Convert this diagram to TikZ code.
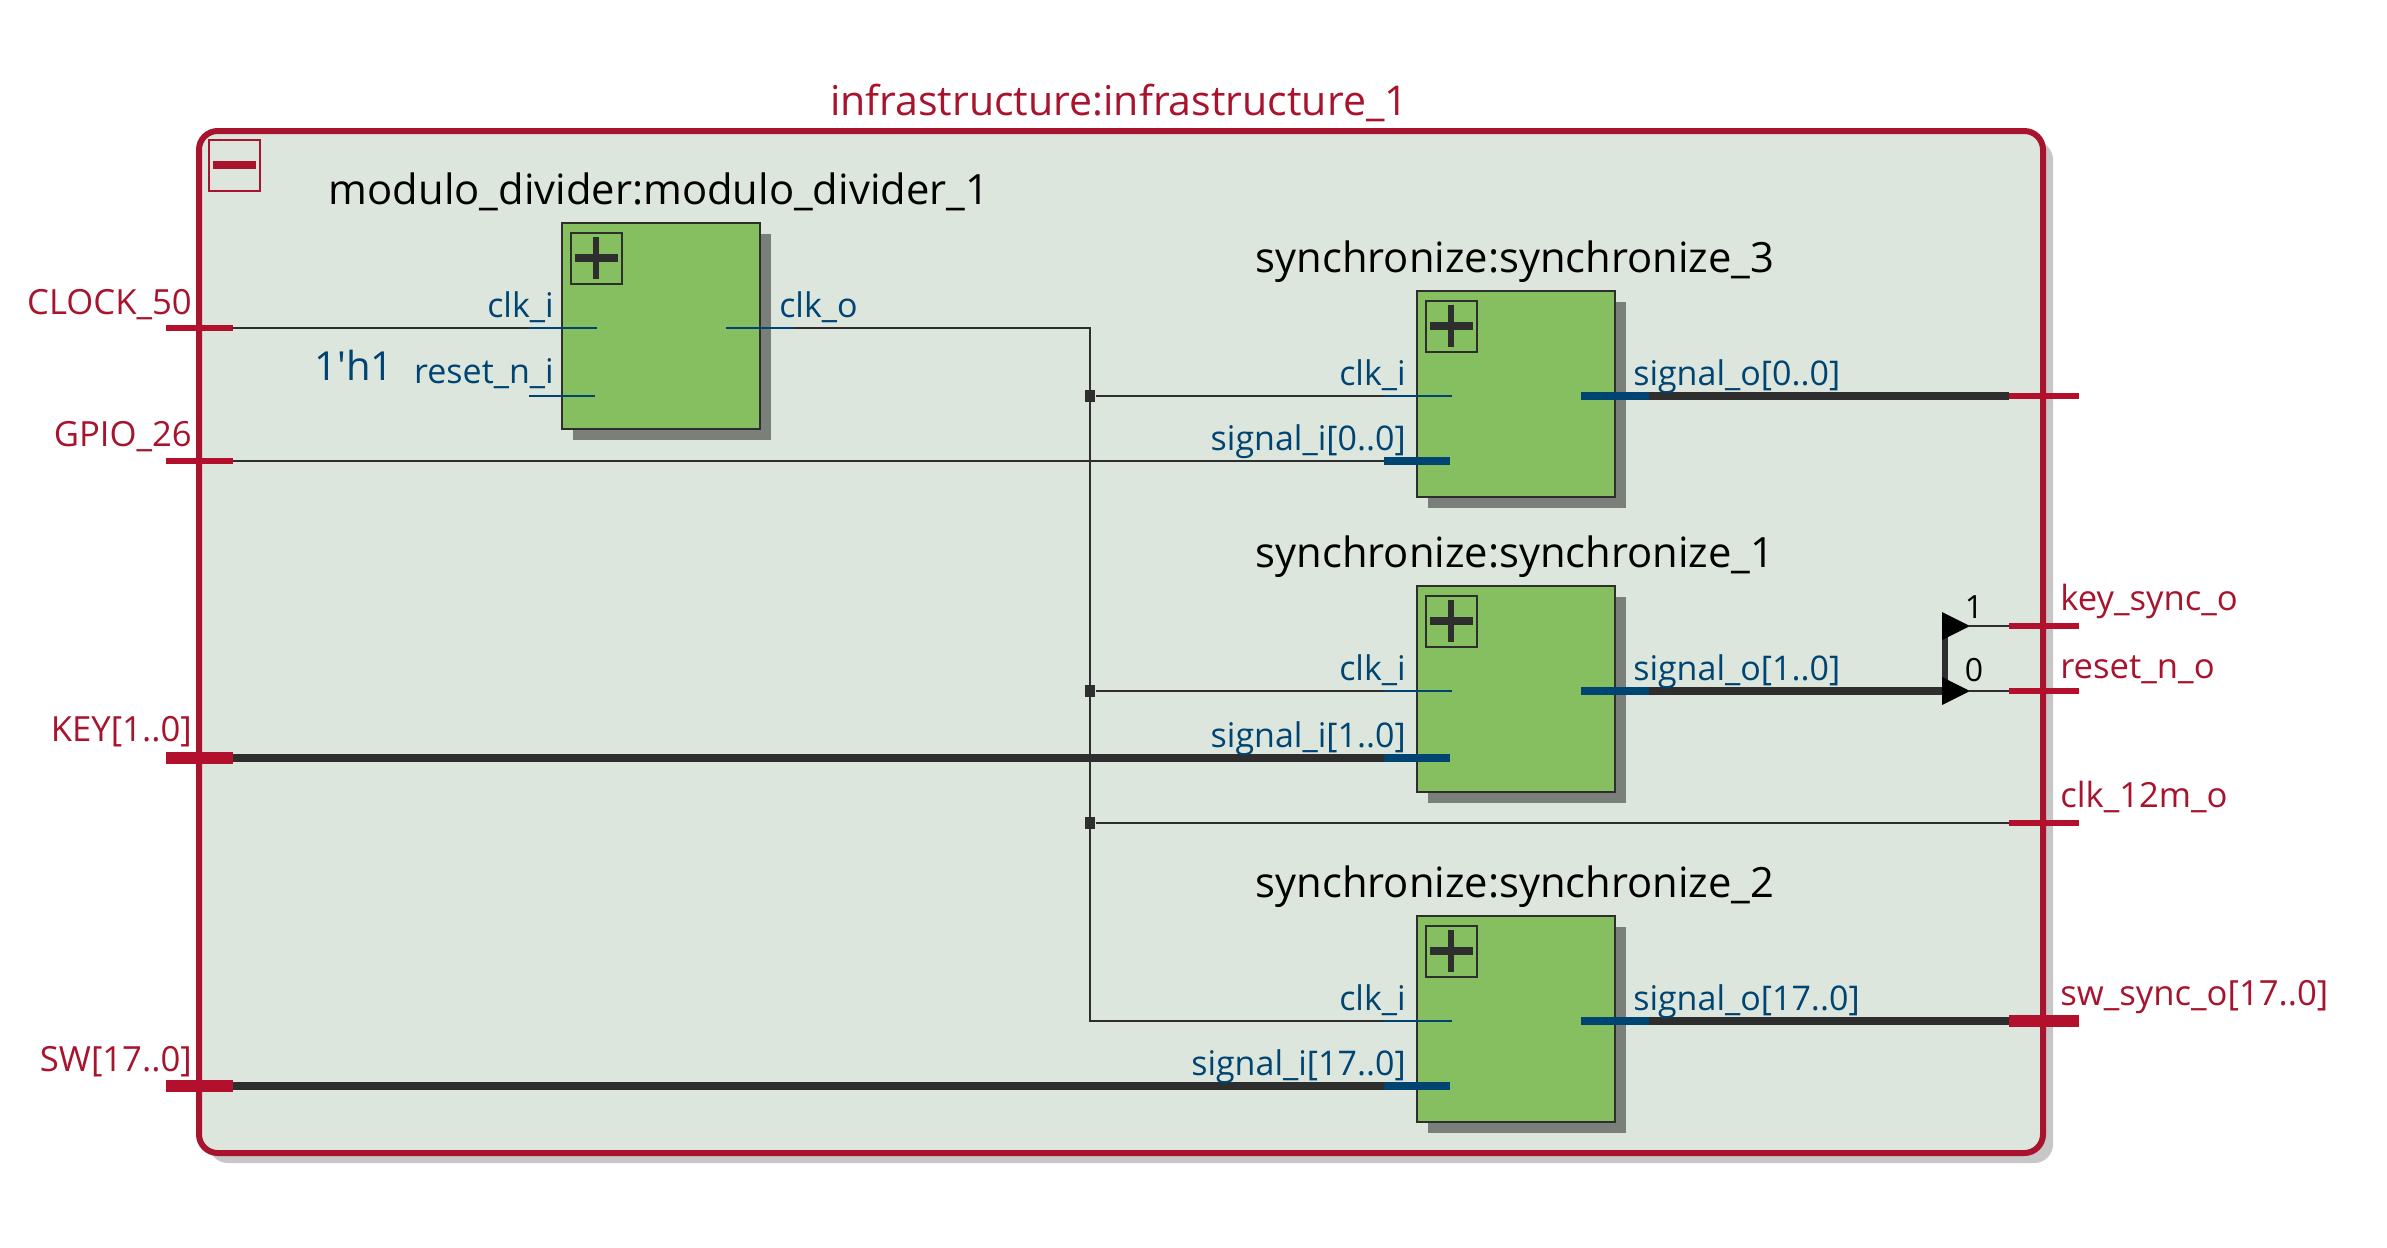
\documentclass[tikz,border=0pt]{standalone}
\usepackage{fontspec}
\setmainfont{Open Sans}
\usetikzlibrary{calc,shadows}
\definecolor{framered}{RGB}{168,20,45}
\definecolor{stubred}{RGB}{178,16,44}
\definecolor{portblue}{RGB}{0,68,114}
\definecolor{wiredark}{RGB}{46,46,46}
\definecolor{blockgreen}{RGB}{133,191,96}
\definecolor{framefill}{RGB}{221,230,221}
\tikzset{
frame/.style={draw=framered, line width=4.5pt, fill=framefill, rounded corners=14pt, minimum width=1383pt, minimum height=766.5pt, inner sep=0pt, outer sep=0pt, anchor=north west, copy shadow={draw=none, fill=black!22, shadow xshift=7.5pt, shadow yshift=-7.5pt}},
moduleblock/.style={draw=wiredark, line width=2pt, fill=blockgreen, minimum width=148.5pt, minimum height=154.5pt, inner sep=0pt, outer sep=0pt, anchor=north west, copy shadow={draw=none, fill=black!45!framefill, shadow xshift=8.25pt, shadow yshift=-8.25pt}},
plusbox/.style={draw=wiredark, line width=1.5pt, minimum width=38pt, minimum height=38pt, inner sep=0pt, outer sep=0pt, anchor=north west},
plusbar/.style={wiredark, line width=6pt},
junction/.style={fill=wiredark, minimum width=8pt, minimum height=9pt, inner sep=0pt},
wire/.style={wiredark, line width=1.8pt},
busline/.style={wiredark, line width=5.5pt},
thinstub/.style={portblue, line width=1.8pt},
thickstub/.style={portblue, line width=5.5pt},
thinpin/.style={stubred, line width=5pt},
thickpin/.style={stubred, line width=9pt},
title/.style={black, font=\fontsize{31.3}{33}\selectfont, anchor=base, inner sep=0pt},
portlabel/.style={portblue, font=\fontsize{25.5}{28}\selectfont, inner sep=0pt},
pinlabel/.style={framered, font=\fontsize{26}{28}\selectfont, inner sep=0pt},
}
\begin{document}
\begin{tikzpicture}[x=0.75pt,y=0.75pt,yscale=-1,xscale=1]
\useasboundingbox (0,0) rectangle (2387,1247);
%Frame
\node (top) [frame] at (199,131) {};
\node (collapse) [draw=framered, line width=1.5pt, minimum width=38pt, minimum height=38pt, inner sep=0pt, outer sep=0pt, anchor=north west] at (209,140) {};
\draw [framered, line width=6pt] ($(collapse.west)+(4,0)$) -- ($(collapse.east)+(-4,0)$);
\node [framered, font=\fontsize{30.8}{32}\selectfont, anchor=base, inner sep=0pt] at (1119,115) {infrastructure:infrastructure\_1};
%Blocks
\node (mod) [moduleblock] at (562,223) {};
\node (syncthree) [moduleblock] at (1417,291) {};
\node (syncone) [moduleblock] at (1417,586) {};
\node (synctwo) [moduleblock] at (1417,916) {};
\foreach \blk/\sigoff in {mod/173,syncthree/170,syncone/172,synctwo/170}{
\node (\blk box) [plusbox] at ($(\blk.north west)+(9,10)$) {};
\draw [plusbar] ($(\blk box.west)+(4,0)$) -- ($(\blk box.east)+(-4,0)$);
\draw [plusbar, line width=4.5pt] ($(\blk box.north)+(0,4)$) -- ($(\blk box.south)+(0,-5)$);
\coordinate (\blk clk) at ($(\blk.north west)+(-33,105)$);
\coordinate (\blk sig) at ($(\blk.north west)+(-33,\sigoff)$);
\coordinate (\blk out) at ($(\blk.north west)+(164,105)$);
\coordinate (\blk clkend) at ($(\blk clk)+(68,0)$);
\coordinate (\blk sigend) at ($(\blk sig)+(66,0)$);
\coordinate (\blk outend) at ($(\blk out)+(68,0)$);
}
\node [title] at (659,204) {modulo\_divider:modulo\_divider\_1};
\node [title] at (1515,272) {synchronize:synchronize\_3};
\node [title] at (1515,567) {synchronize:synchronize\_1};
\node [title] at (1515,897) {synchronize:synchronize\_2};
%Pins
\coordinate (clock) at (166,328);
\coordinate (gpio) at (166,461);
\coordinate (keyin) at (166,758);
\coordinate (swin) at (166,1086);
\coordinate (sigthree) at (2009,396);
\coordinate (keyout) at (2009,626);
\coordinate (resetout) at (2009,691);
\coordinate (clkout) at (2009,823);
\coordinate (swout) at (2009,1021);
\coordinate (bustop) at (1090,328);
\coordinate (buslow) at (1090,1021);
%Junctions
\node (jtop) [junction] at (1090,396) {};
\node (jmid) [junction] at (1090,691) {};
\node (jlow) [junction] at (1090,823) {};
%Straight Lines
\draw [wire] (clock) -- (modclk);
\draw [wire] (modout) -- (bustop) -- (buslow) -- (synctwoclk);
\draw [wire] (jtop) -- (syncthreeclk);
\draw [wire] (jmid) -- (synconeclk);
\draw [wire] (jlow) -- (clkout);
\draw [wire] (gpio) -- (syncthreesig);
\draw [busline] (keyin) -- (synconesig);
\draw [busline] (swin) -- (synctwosig);
\draw [busline] (syncthreeoutend) -- (sigthree);
\draw [busline] (synctwooutend) -- (swout);
%Ripper
\coordinate (ripa) at (1945,626);
\coordinate (ripb) at (1945,691);
\coordinate (tipa) at (1969,626);
\coordinate (tipb) at (1969,691);
\draw [busline] (synconeoutend) -- (ripb);
\draw [busline, line width=5pt] (ripa) -- (ripb);
\fill [black] (1942,612) -- (1970,626) -- (1942,640) -- cycle;
\fill [black] (1942,677) -- (1970,691) -- (1942,705) -- cycle;
\draw [wire] (tipa) -- (keyout);
\draw [wire] (tipb) -- (resetout);
\node [black, font=\fontsize{24}{26}\selectfont, anchor=base, inner sep=0pt] at (1974,618) {1};
\node [black, font=\fontsize{24}{26}\selectfont, anchor=base, inner sep=0pt] at (1974,681) {0};
%Stubs
\draw [thinstub] (modclk) -- (modclkend);
\draw [thinstub] (modsig) -- (modsigend);
\draw [thinstub] (modout) -- (modoutend);
\foreach \blk in {syncthree,syncone,synctwo}{
\draw [thinstub] (\blk clk) -- (\blk clkend);
\draw [thickstub] (\blk sig) -- (\blk sigend);
\draw [thickstub] (\blk out) -- (\blk outend);
}
\foreach \pin in {clock,gpio}{
\draw [thinpin] (\pin) -- ++(67,0);
}
\foreach \pin in {keyin,swin}{
\draw [thickpin] (\pin) -- ++(67,0);
}
\foreach \pin in {sigthree,keyout,resetout,clkout}{
\draw [thinpin] (\pin) -- ++(70,0);
}
\draw [thickpin] (swout) -- ++(70,0);
%Labels
\node [portlabel, anchor=base east] at (554,317) {clk\_i};
\node [portlabel, anchor=base east] at (554,383) {reset\_n\_i};
\node [portlabel, anchor=base east, font=\fontsize{30}{32}\selectfont] at (394,380) {1\textquotesingle h1};
\node [portlabel, anchor=base west] at (779,317) {clk\_o};
\node [portlabel, anchor=base east] at (1406,385) {clk\_i};
\node [portlabel, anchor=base east] at (1406,450) {signal\_i[0..0]};
\node [portlabel, anchor=base west] at (1633,385) {signal\_o[0..0]};
\node [portlabel, anchor=base east] at (1406,680) {clk\_i};
\node [portlabel, anchor=base east] at (1406,747) {signal\_i[1..0]};
\node [portlabel, anchor=base west] at (1633,680) {signal\_o[1..0]};
\node [portlabel, anchor=base east] at (1406,1010) {clk\_i};
\node [portlabel, anchor=base east] at (1406,1075) {signal\_i[17..0]};
\node [portlabel, anchor=base west] at (1633,1010) {signal\_o[17..0]};
\node [pinlabel, anchor=base east] at (192,314) {CLOCK\_50};
\node [pinlabel, anchor=base east] at (192,446) {GPIO\_26};
\node [pinlabel, anchor=base east] at (192,741) {KEY[1..0]};
\node [pinlabel, anchor=base east] at (192,1071) {SW[17..0]};
\node [pinlabel, anchor=base west] at (2060,610) {key\_sync\_o};
\node [pinlabel, anchor=base west] at (2060,678) {reset\_n\_o};
\node [pinlabel, anchor=base west] at (2060,807) {clk\_12m\_o};
\node [pinlabel, anchor=base west] at (2060,1005) {sw\_sync\_o[17..0]};
\end{tikzpicture}
\end{document}
